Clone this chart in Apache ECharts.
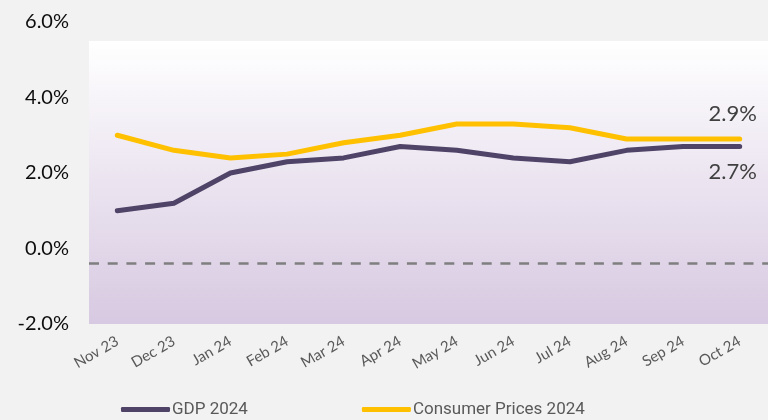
<!DOCTYPE html>
<html>
<head>
<meta charset="utf-8">
<script src="https://cdn.jsdelivr.net/npm/echarts@6/dist/echarts.min.js"></script>
<style>
  html, body { margin: 0; padding: 0; background: #f2f2f2; }
  #chart { width: 768px; height: 420px; }
</style>
</head>
<body>
<div id="chart"></div>
<script>
const months = ['Nov 23', 'Dec 23', 'Jan 24', 'Feb 24', 'Mar 24', 'Apr 24',
    'May 24', 'Jun 24', 'Jul 24', 'Aug 24', 'Sep 24', 'Oct 24'];
const gdp = [1.0, 1.2, 2.0, 2.3, 2.4, 2.7, 2.6, 2.4, 2.3, 2.6, 2.7, 2.7];
const cpi = [3.0, 2.6, 2.4, 2.5, 2.8, 3.0, 3.3, 3.3, 3.2, 2.9, 2.9, 2.9];
const refLine = -0.4;
const shadeRange = [5.5, -2];

const pct = v => v.toFixed(1) + '%';

// label only on the last point of each line
const withEndLabel = (values, position) => values.map((v, i) => i < values.length - 1 ? v : {
    value: v,
    label: {
        show: true,
        position,
        distance: 14,
        offset: [-7, 0],
        formatter: p => pct(p.value),
        fontFamily: 'Lato',
        fontSize: 22,
        color: '#404040',
    },
});

const chart = echarts.init(document.getElementById('chart'));

const option = {
    backgroundColor: '#f2f2f2',
    animation: false,
    grid: { left: 89, right: 0, top: 22, bottom: 96 },
    legend: {
        left: 121,
        bottom: 2,
        padding: 0,
        icon: 'roundRect',
        itemWidth: 49,
        itemHeight: 5,
        itemGap: 114,
        textStyle: { fontFamily: 'Roboto', fontSize: 17, color: '#595959', padding: [0, 0, 0, -3] },
        data: ['GDP 2024', 'Consumer Prices 2024'],
    },
    xAxis: {
        type: 'category',
        data: months,
        axisLine: { show: false },
        axisTick: { show: false },
        axisLabel: {
            rotate: 30,
            margin: 16,
            fontFamily: 'Lato',
            fontSize: 15,
            color: '#595959',
        },
    },
    yAxis: {
        type: 'value',
        min: -2,
        max: 6,
        interval: 2,
        splitLine: { show: false },
        axisLine: { show: false },
        axisLabel: {
            margin: 20,
            formatter: pct,
            fontFamily: 'Lato',
            fontSize: 20,
            color: '#0d0d0d',
        },
    },
    series: [
        {
            name: 'GDP 2024',
            type: 'line',
            data: withEndLabel(gdp, 'bottom'),
            symbol: 'circle',
            symbolSize: 0.1,
            color: '#4f4468',
            lineStyle: { width: 5, cap: 'round', join: 'round' },
            z: 3,
            markArea: {
                silent: true,
                itemStyle: {
                    color: new echarts.graphic.LinearGradient(0, 0, 0, 1, [
                        { offset: 0, color: '#ffffff' },
                        { offset: 1, color: '#d7c9e1' },
                    ]),
                },
                data: [[{ yAxis: shadeRange[0] }, { yAxis: shadeRange[1] }]],
            },
            markLine: {
                silent: true,
                symbol: 'none',
                label: { show: false },
                lineStyle: { color: '#7f7f7f', width: 2.5, type: [10, 8.7] },
                data: [{ yAxis: refLine }],
            },
        },
        {
            name: 'Consumer Prices 2024',
            type: 'line',
            data: withEndLabel(cpi, 'top'),
            symbol: 'circle',
            symbolSize: 0.1,
            color: '#ffc000',
            lineStyle: { width: 5, cap: 'round', join: 'round' },
            z: 2,
        },
    ],
};

chart.setOption(option);
</script>
</body>
</html>
